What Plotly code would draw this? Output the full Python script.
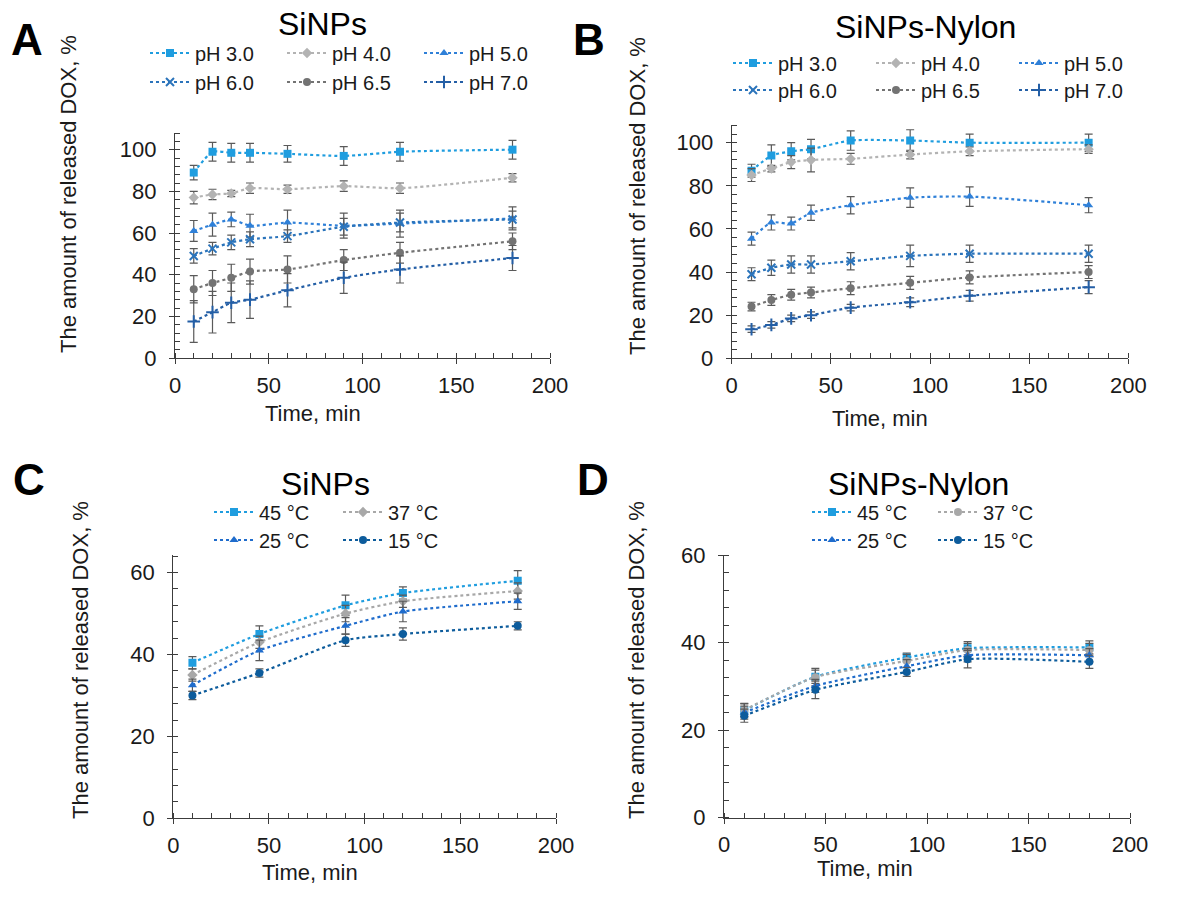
import plotly.graph_objects as go

# ---------------- data ----------------
time_ph = [10, 20, 30, 40, 60, 90, 120, 180]
ph_labels = ["pH 3.0", "pH 4.0", "pH 5.0", "pH 6.0", "pH 6.5", "pH 7.0"]

a_ph30 = [89, 99, 98.5, 98.5, 98, 97, 99, 100]
a_ph40 = [77, 78.5, 79, 81.5, 81, 82.5, 81.5, 86.5]
a_ph50 = [61, 64, 66.5, 63.5, 65, 63.5, 64.5, 67]
a_ph60 = [49, 52.5, 55.5, 57, 58.5, 63, 65, 66.5]
a_ph65 = [33, 36, 38.5, 41.5, 42.5, 47, 50.5, 56]
a_ph70 = [17.5, 22, 26.5, 28, 32.5, 38.5, 42.5, 48]
a_err30 = [3.5, 4.5, 4.5, 4.5, 4, 4.5, 4.5, 4.5]
a_err40 = [3, 2.5, 1.5, 2.5, 2, 2.5, 2.5, 2]
a_err50 = [5, 5.5, 3.5, 5.5, 6, 6, 6.5, 5.5]
a_err60 = [3.5, 3, 3.5, 3.5, 3, 4, 4.5, 4]
a_err65 = [6.5, 6, 6.5, 6, 6.5, 5, 5, 4]
a_err70 = [10, 10, 9.5, 9, 8, 7.5, 6.5, 6]

b_ph30 = [87, 94, 96, 97, 101, 101, 100, 100]
b_ph40 = [85, 88, 91, 92, 92.5, 94.5, 96, 97]
b_ph50 = [55.5, 63, 62.5, 67.5, 71, 74.5, 75, 71]
b_ph60 = [39, 42, 43.5, 43.5, 45, 47.5, 48.5, 48.5]
b_ph65 = [24, 27, 29.5, 30.5, 32.5, 35, 37.5, 40]
b_ph70 = [13.5, 15.5, 18.5, 20, 23.5, 26, 29, 33]
b_err30 = [3, 5, 4, 4.5, 4.5, 5, 4, 4]
b_err40 = [3, 1.5, 3, 5.5, 2.5, 2, 2, 2]
b_err50 = [3, 3.5, 3, 3.5, 4, 4.5, 4.5, 3.5]
b_err60 = [3, 3.5, 4, 4, 4, 5, 4, 4]
b_err65 = [2, 2.5, 2.5, 2.5, 3, 3, 3, 3]
b_err70 = [1.5, 1.5, 1.5, 1.5, 1.5, 2, 2.5, 3]

time_t = [10, 45, 90, 120, 180]
t_labels = ["45 °C", "37 °C", "25 °C", "15 °C"]

c_t45 = [38, 45, 52, 55, 58]
c_t37 = [35, 43, 50, 53, 55.5]
c_t25 = [32.5, 41, 47, 50.5, 53]
c_t15 = [30, 35.5, 43.5, 45, 47]
c_err45 = [1.5, 2, 2.5, 1.5, 2.5]
c_err37 = [1.5, 1.5, 2, 1.5, 2]
c_err25 = [1.5, 2.5, 2, 2.5, 2]
c_err15 = [1, 1, 1.5, 1.5, 1]

d_t45 = [24.5, 32.2, 36.6, 38.7, 38.9]
d_t37 = [24.6, 32.1, 35.8, 38.3, 38.3]
d_t25 = [24, 30.1, 34.6, 37.1, 37.1]
d_t15 = [23.3, 29.2, 33.3, 36.2, 35.6]
d_err45 = [1.5, 1.5, 1, 1.5, 1.5]
d_err37 = [1.5, 2, 1.5, 1.5, 1.5]
d_err25 = [1.5, 1.5, 1.5, 1.5, 1.5]
d_err15 = [1.5, 2, 1, 2, 1.5]

# ---------------- styles ----------------
FONT = "Liberation Sans, Arial, sans-serif"
TXT = "#1a1a1a"
AX = "#3c3c3c"
W, H = 1178, 916

ph_colors = ["#1f9ddf", "#b3b3b3", "#2f80d8", "#2b74bb", "#737373", "#245fa6"]
ph_markers = ["square", "diamond", "triangle-up", "x", "circle", "cross-thin"]
t_colors = ["#1f9ddf", "#a8a8a8", "#1f6ccc", "#0d5c9c"]
t_markers_c = ["square", "diamond", "triangle-up", "circle"]
t_markers_d = ["square", "circle", "triangle-up", "circle"]

fig = go.Figure()


def add_series(x, y, err, name, color, symbol, xa, ya, legend):
    mk = dict(symbol=symbol, size=8, color=color)
    if symbol == "cross-thin":
        mk = dict(symbol=symbol, size=9, color=color, line=dict(color=color, width=2))
    elif symbol == "x":
        mk = dict(symbol="x-thin", size=8, color=color, line=dict(color=color, width=2))
    fig.add_trace(go.Scatter(
        x=x, y=y, name=name, mode="lines+markers",
        line=dict(color=color, width=2.2, dash="dot", shape="spline", smoothing=0.6),
        marker=mk,
        error_y=dict(type="data", array=err, visible=True, color="#5a5a5a", thickness=1.2, width=4),
        xaxis=xa, yaxis=ya, legend=legend,
    ))


a_vals = [a_ph30, a_ph40, a_ph50, a_ph60, a_ph65, a_ph70]
a_errs = [a_err30, a_err40, a_err50, a_err60, a_err65, a_err70]
b_vals = [b_ph30, b_ph40, b_ph50, b_ph60, b_ph65, b_ph70]
b_errs = [b_err30, b_err40, b_err50, b_err60, b_err65, b_err70]
for i in range(6):
    lg = "legend" if i < 3 else "legend2"
    add_series(time_ph, a_vals[i], a_errs[i], ph_labels[i], ph_colors[i], ph_markers[i], "x", "y", lg)
for i in range(6):
    lg = "legend3" if i < 3 else "legend4"
    add_series(time_ph, b_vals[i], b_errs[i], ph_labels[i], ph_colors[i], ph_markers[i], "x2", "y2", lg)

c_vals = [c_t45, c_t37, c_t25, c_t15]
c_errs = [c_err45, c_err37, c_err25, c_err15]
d_vals = [d_t45, d_t37, d_t25, d_t15]
d_errs = [d_err45, d_err37, d_err25, d_err15]
for i in range(4):
    lg = "legend5" if i < 2 else "legend6"
    add_series(time_t, c_vals[i], c_errs[i], t_labels[i], t_colors[i], t_markers_c[i], "x3", "y3", lg)
for i in range(4):
    lg = "legend7" if i < 2 else "legend8"
    add_series(time_t, d_vals[i], d_errs[i], t_labels[i], t_colors[i], t_markers_d[i], "x4", "y4", lg)

# ---------------- axes ----------------
def px_x(p):
    return p / W


def px_y(p):
    return 1 - p / H


panels = [
    dict(x=(175, 550), y=(358, 133), yr=[0, 108]),
    dict(x=(731.7, 1128.3), y=(358.3, 125), yr=[0, 108.2]),
    dict(x=(173.3, 556), y=(818.3, 555), yr=[0, 64.3]),
    dict(x=(724, 1130), y=(817.7, 555), yr=[0, 60]),
]

layout = dict(
    width=W, height=H, margin=dict(l=0, r=0, t=0, b=0, autoexpand=False),
    paper_bgcolor="white", plot_bgcolor="white",
    font=dict(family=FONT, size=22, color=TXT),
    showlegend=True,
)

for k, p in enumerate(panels):
    n = "" if k == 0 else str(k + 1)
    xd = [px_x(p["x"][0]), px_x(p["x"][1])]
    yd = [px_y(p["y"][0]), px_y(p["y"][1])]
    layout["xaxis" + n] = dict(
        domain=xd, range=[0, 200], anchor="y" + n, dtick=50,
        showline=True, linecolor=AX, linewidth=1.3, showgrid=False, zeroline=False,
        ticks="outside", ticklen=5, tickwidth=1.3, tickcolor=AX,
        minor=dict(dtick=10, ticks="inside", ticklen=5, tickwidth=1.1, tickcolor=AX, showgrid=False),
        tickfont=dict(size=22, color=TXT), ticklabelstandoff=2, fixedrange=True,
    )
    layout["yaxis" + n] = dict(
        domain=yd, range=p["yr"], anchor="x" + n, dtick=20,
        showline=True, linecolor=AX, linewidth=1.3, showgrid=False, zeroline=False,
        ticks="outside", ticklen=5, tickwidth=1.3, tickcolor=AX,
        minor=dict(dtick=4, ticks="inside", ticklen=5, tickwidth=1.1, tickcolor=AX, showgrid=False),
        tickfont=dict(size=22, color=TXT), ticklabelstandoff=8, fixedrange=True,
    )
    m = str(k + 5)
    layout["xaxis" + m] = dict(
        domain=xd, range=[0, 200], overlaying="x" + n, anchor="y" + n, side="bottom", dtick=50,
        showline=False, showgrid=False, zeroline=False, showticklabels=False,
        ticks="inside", ticklen=5, tickwidth=1.3, tickcolor=AX, fixedrange=True,
    )
    layout["yaxis" + m] = dict(
        domain=yd, range=p["yr"], overlaying="y" + n, anchor="x" + n, side="left", dtick=20,
        showline=False, showgrid=False, zeroline=False, showticklabels=False,
        ticks="inside", ticklen=5, tickwidth=1.3, tickcolor=AX, fixedrange=True,
    )

# ---------------- legends ----------------
leg_specs = [
    ("legend", 147, 53, 82), ("legend2", 147, 82, 82),
    ("legend3", 730, 63, 88), ("legend4", 730, 90, 88),
    ("legend5", 211, 512, 74), ("legend6", 211, 540, 74),
    ("legend7", 809, 512, 71), ("legend8", 809, 540, 71),
]
for name, lx, ly, ew in leg_specs:
    layout[name] = dict(
        x=px_x(lx - 2), y=px_y(ly), xanchor="left", yanchor="middle",
        orientation="h", bgcolor="rgba(0,0,0,0)", borderwidth=0,
        font=dict(family=FONT, size=20, color=TXT),
        itemwidth=40, entrywidth=ew, entrywidthmode="pixels",
        tracegroupgap=0, itemclick=False, itemdoubleclick=False,
    )

fig.update_layout(**layout)

# ---------------- text annotations ----------------
ann = []
for txt, x, y in [("A", 27, 40), ("B", 589, 40), ("C", 29, 479), ("D", 593, 479)]:
    ann.append(dict(text="<b>%s</b>" % txt, x=px_x(x), y=px_y(y), xref="paper", yref="paper",
                    showarrow=False, xanchor="center", yanchor="middle",
                    font=dict(family=FONT, size=44, color="#000000")))
for txt, x, y in [("SiNPs", 322, 24), ("SiNPs-Nylon", 925, 27), ("SiNPs", 325, 484), ("SiNPs-Nylon", 918, 484)]:
    ann.append(dict(text=txt, x=px_x(x), y=px_y(y), xref="paper", yref="paper",
                    showarrow=False, xanchor="center", yanchor="middle",
                    font=dict(family=FONT, size=32, color="#000000")))
for x, y in [(313, 413), (880, 418), (310, 872), (865, 868)]:
    ann.append(dict(text="Time, min", x=px_x(x), y=px_y(y), xref="paper", yref="paper",
                    showarrow=False, xanchor="center", yanchor="middle",
                    font=dict(family=FONT, size=22, color=TXT)))
for x, y in [(68, 194), (638, 196), (80, 660), (636, 660)]:
    ann.append(dict(text="The amount of released DOX, %", x=px_x(x), y=px_y(y), xref="paper", yref="paper",
                    showarrow=False, xanchor="center", yanchor="middle", textangle=-90,
                    font=dict(family=FONT, size=22, color=TXT)))
fig.update_layout(annotations=ann)

fig.write_html("out.html")
